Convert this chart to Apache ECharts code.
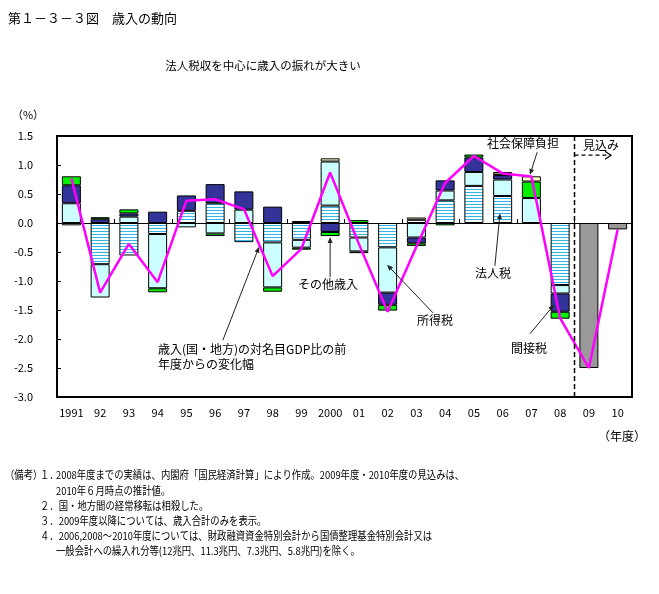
<!DOCTYPE html>
<html><head><meta charset="utf-8">
<script src="https://cdn.jsdelivr.net/npm/echarts@6/dist/echarts.min.js"></script>
<style>html,body{margin:0;padding:0;background:#fff}#c{width:659px;height:594px}</style>
</head><body><div id="c"></div>
<script>
// ---- data ----
const categories = ['1991','92','93','94','95','96','97','98','99','2000','01','02','03','04','05','06','07','08','09','10'];
// 法人税
const corporateTax = [-0.04,-0.71,-0.56,-0.19,0.21,0.34,-0.33,-0.335,-0.29,0.30,-0.25,-0.42,0.055,0.39,0.64,0.465,null,-1.07,null,null];
// 所得税
const incomeTax = [0.34,-0.575,0.11,-0.935,-0.075,-0.18,0.23,-0.775,-0.135,0.76,-0.24,-0.78,-0.25,0.17,0.24,0.285,0.43,-0.145,null,null];
// 間接税
const indirectTax = [0.31,0.065,0.055,0.195,0.265,0.33,0.315,0.282,null,-0.155,-0.03,-0.21,-0.10,0.175,0.25,0.075,null,-0.315,null,null];
// その他歳入
const otherRevenue = [0.155,0.035,0.07,-0.07,null,-0.045,null,-0.075,-0.035,-0.07,0.05,-0.10,-0.045,-0.04,0.05,0.01,0.285,-0.12,null,null];
// 社会保障負担
const socialSecurity = [null,null,null,null,null,null,null,null,0.035,0.055,null,null,0.04,null,null,0.045,0.09,null,null,null];
// 歳入合計（見込み）
const totalRevenue = [null,null,null,null,null,null,null,null,null,null,null,null,null,null,null,null,null,null,-2.50,-0.11];
// 歳入(国・地方)の対名目GDP比の前年度からの変化幅
const changeLine = [0.77,-1.20,-0.36,-1.02,0.385,0.41,0.24,-0.915,-0.445,0.87,-0.36,-1.53,-0.41,0.69,1.155,0.855,0.80,-1.64,-2.50,-0.11];
const yMin = -3.0, yMax = 1.5, yStep = 0.5;

const FONT = '"Noto Sans CJK JP", "Noto Sans", sans-serif';

function stripePattern(){
  const c = document.createElement('canvas'); c.width = 4; c.height = 3;
  const g = c.getContext('2d');
  g.fillStyle = '#F4FFFF'; g.fillRect(0,0,4,3);
  g.fillStyle = '#3AB2E4'; g.fillRect(0,0,4,1);
  return c;
}

const chart = echarts.init(document.getElementById('c'), null, {renderer:'canvas'});
const border = {borderColor:'#000', borderWidth:1};
const barBase = {type:'bar', stack:'rev', barWidth:19, animation:false};

chart.setOption({
  animation:false,
  backgroundColor:'#fff',
  textStyle:{fontFamily:FONT},
  grid:{left:57, top:136, width:575, height:261, show:true, borderColor:'#000', borderWidth:2, backgroundColor:'transparent'},
  xAxis:[
    {type:'category', data:categories, boundaryGap:true,
     axisLine:{onZero:true, lineStyle:{color:'#000', width:1}},
     axisTick:{show:true, inside:true, length:4, alignWithLabel:false, lineStyle:{color:'#000'}},
     axisLabel:{show:false}, splitLine:{show:false}},
    {type:'category', data:categories, position:'bottom', boundaryGap:true,
     axisLine:{show:false, onZero:false}, axisTick:{show:false},
     axisLabel:{show:true, interval:0, color:'#000', fontSize:11, margin:10, fontFamily:FONT}}
  ],
  yAxis:{type:'value', min:yMin, max:yMax, interval:yStep,
    axisLine:{show:true, lineStyle:{color:'#000', width:1}},
    axisTick:{show:true, inside:true, length:4, lineStyle:{color:'#000'}},
    splitLine:{show:false},
    axisLabel:{color:'#000', fontSize:11, margin:24, fontFamily:FONT,
      formatter:v=>v.toFixed(1)}},
  series:[
    {...barBase, name:'法人税', data:corporateTax, itemStyle:{color:{image:stripePattern(), repeat:'repeat'}, ...border}},
    {...barBase, name:'所得税', data:incomeTax, itemStyle:{color:'#CCFFFF', ...border}},
    {...barBase, name:'間接税', data:indirectTax, itemStyle:{color:'#333399', ...border}},
    {...barBase, name:'その他歳入', data:otherRevenue, itemStyle:{color:'#00F000', ...border}},
    {...barBase, name:'社会保障負担', data:socialSecurity, itemStyle:{color:'#FFFFCC', ...border}},
    {...barBase, name:'歳入合計', data:totalRevenue, itemStyle:{color:'#999999', ...border}},
    {type:'line', name:'変化幅', data:changeLine, symbol:'none', z:5, animation:false,
     lineStyle:{color:'#FF00FF', width:2.5}}
  ]
});

// ---- annotations (positioned from the axes) ----
const p0 = chart.convertToPixel({xAxisIndex:0, yAxisIndex:0}, [0, 0]);
const p1 = chart.convertToPixel({xAxisIndex:0, yAxisIndex:0}, [1, 0]);
const step = p1[0] - p0[0];
const X = i => p0[0] + i*step;
const Y = v => chart.convertToPixel({yAxisIndex:0}, v);
const gTop = Y(yMax), gBot = Y(yMin);

function arrow(a, b){ // a tail [idx,val], b tip [idx,val]
  const x1 = X(a[0]), y1 = Y(a[1]), x2 = X(b[0]), y2 = Y(b[1]);
  const dx = x2-x1, dy = y2-y1, L = Math.hypot(dx,dy), ux = dx/L, uy = dy/L;
  const hl = 6, hw = 2.5;
  const bx = x2-ux*hl, by = y2-uy*hl;
  return [
    {type:'line', shape:{x1, y1, x2:bx, y2:by}, style:{stroke:'#222', lineWidth:1}, z:100},
    {type:'polygon', shape:{points:[[x2,y2],[bx-uy*hw, by+ux*hw],[bx+uy*hw, by-ux*hw]]}, style:{fill:'#222'}, z:100}
  ];
}
function txt(x, y, t, opt){
  opt = opt || {};
  return {type:'text', x, y, scaleX:opt.sx||1, z:100,
    style:{text:t, font:(opt.size||12)+'px '+FONT, fill:'#000', align:opt.align||'left', verticalAlign:'middle'}};
}
const sepX = (X(17)+X(18))/2;
const mY = Y(1.17);
const g = [];
// separator dashed line and 見込み arrow
g.push({type:'line', shape:{x1:sepX, y1:gTop, x2:sepX, y2:gBot+3}, style:{stroke:'#000', lineWidth:1.5, lineDash:[5,3]}, z:100});
g.push({type:'line', shape:{x1:sepX, y1:mY, x2:X(18.77), y2:mY}, style:{stroke:'#000', lineWidth:1.2, lineDash:[4,3]}, z:100});
g.push({type:'polyline', shape:{points:[[X(18.77)-6, mY-4],[X(18.77), mY],[X(18.77)-6, mY+4]]}, style:{stroke:'#000', lineWidth:1.2, fill:null}, z:100});
g.push(txt(583, 145, '見込み'));
// arrows
g.push(...arrow([5.27,-2.02],[6.53,-0.41]));
g.push(...arrow([9,-0.93],[9,-0.24]));
g.push(...arrow([12.58,-1.55],[10.98,-0.72]));
g.push(...arrow([14.73,-0.74],[14.91,0.17]));
g.push(...arrow([16.2,1.22],[15.95,0.83]));
g.push(...arrow([15.95,-1.91],[16.79,-1.41]));
// labels
g.push(txt(158, 349, '歳入(国・地方)の対名目GDP比の前'));
g.push(txt(158, 364, '年度からの変化幅'));
g.push(txt(328, 284, 'その他歳入', {align:'center'}));
g.push(txt(417, 320, '所得税'));
g.push(txt(493, 273, '法人税', {align:'center'}));
g.push(txt(523, 143, '社会保障負担', {align:'center'}));
g.push(txt(529, 348, '間接税', {align:'center'}));
g.push(txt(622, 436, '（年度）', {align:'center'}));
// titles
g.push(txt(8, 18, '第１－３－３図　歳入の動向', {size:13}));
g.push(txt(263, 66, '法人税収を中心に歳入の振れが大きい', {size:11.5, align:'center'}));
g.push(txt(28, 115, '（%）', {size:11, align:'center'}));
// notes
const ns = {size:11, sx:0.85};
g.push(txt(5, 475, '（備考）', ns));
g.push(txt(40, 475, '１．', ns));
g.push(txt(56, 475, '2008年度までの実績は、内閣府「国民経済計算」により作成。2009年度・2010年度の見込みは、', ns));
g.push(txt(56, 491, '2010年６月時点の推計値。', ns));
g.push(txt(40, 506, '２．国・地方間の経常移転は相殺した。', ns));
g.push(txt(40, 521, '３．2009年度以降については、歳入合計のみを表示。', ns));
g.push(txt(40, 536, '４．2006,2008～2010年度については、財政融資資金特別会計から国債整理基金特別会計又は', ns));
g.push(txt(56, 551, '一般会計への繰入れ分等(12兆円、11.3兆円、7.3兆円、5.8兆円)を除く。', ns));
chart.setOption({graphic:g});
</script>
</body></html>
